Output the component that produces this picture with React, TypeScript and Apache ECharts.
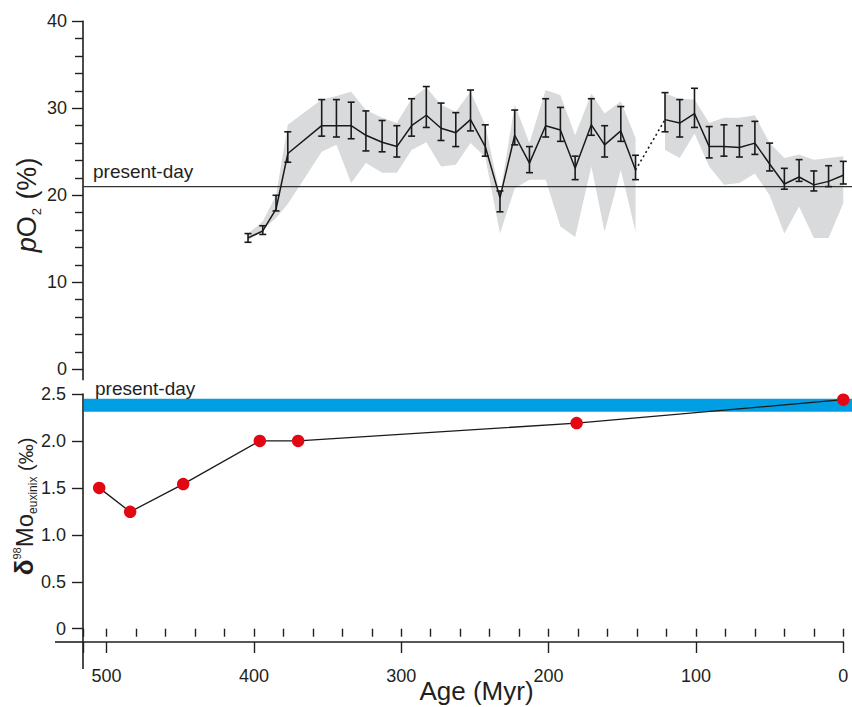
import React, { useEffect, useRef } from 'react';
import * as echarts from 'echarts';

const FAMILY = '"Liberation Sans", Arial, Helvetica, sans-serif';
const INK = '#231f20';

// ---------- Top panel: pO2 (%) ----------
const o2Ages1 = [404, 394, 385, 377, 354, 344, 334, 324, 313, 303, 293, 283, 273, 263, 253, 243, 233, 223, 213, 202, 192, 182, 171, 162, 151, 141];
const o2Values1 = [15.1, 15.9, 18.4, 24.8, 28.0, 28.0, 28.0, 26.9, 26.1, 25.6, 28.0, 29.2, 27.7, 27.2, 28.7, 25.6, 19.7, 26.9, 23.7, 28.0, 27.5, 23.1, 28.1, 25.8, 27.4, 22.9];
const o2Low1 = [14.6, 15.5, 18.2, 23.8, 26.8, 26.7, 26.5, 25.1, 25.0, 24.4, 26.8, 27.8, 26.3, 25.6, 27.4, 24.5, 18.1, 25.8, 22.6, 26.7, 26.2, 21.8, 26.9, 24.4, 26.2, 21.8];
const o2High1 = [15.6, 16.5, 20.0, 27.3, 31.0, 31.0, 30.7, 29.7, 28.6, 28.0, 31.1, 32.5, 30.6, 29.5, 32.1, 28.1, 20.5, 29.8, 25.6, 31.1, 30.1, 24.5, 31.1, 28.0, 30.2, 24.6];
const bandUpper1 = [15.6, 17.0, 20.0, 28.1, 31.0, 31.4, 31.9, 29.8, 28.9, 28.3, 31.1, 32.4, 30.4, 29.6, 31.9, 28.1, 20.0, 30.4, 26.0, 32.1, 31.5, 26.9, 31.7, 29.4, 30.8, 26.6];
const bandLower1 = [14.8, 16.0, 17.4, 19.0, 25.0, 25.8, 21.4, 23.7, 22.6, 22.6, 25.2, 26.1, 23.3, 23.5, 26.0, 24.4, 15.6, 20.8, 21.8, 21.8, 16.4, 15.2, 23.3, 15.8, 22.9, 15.8];

const o2Ages2 = [121, 111, 101, 91, 81, 70.5, 60, 50, 40, 30, 20, 10, 0];
const o2Values2 = [28.7, 28.3, 29.4, 25.6, 25.6, 25.5, 26.0, 23.6, 21.3, 22.1, 21.2, 21.6, 22.3];
const o2Low2 = [27.3, 26.7, 27.8, 24.3, 24.5, 24.4, 24.7, 22.8, 20.7, 21.6, 20.5, 21.0, 21.3];
const o2High2 = [31.8, 31.0, 32.3, 27.9, 28.1, 28.0, 28.5, 26.0, 23.1, 24.1, 22.8, 23.4, 23.9];
const bandUpper2 = [31.7, 31.1, 31.0, 28.3, 28.9, 28.9, 29.2, 26.0, 24.3, 24.7, 24.1, 24.3, 24.5];
const bandLower2 = [25.2, 24.3, 27.1, 23.3, 21.2, 21.4, 22.5, 20.0, 15.6, 18.7, 15.1, 15.1, 19.1];

const presentDayO2 = 21;

// ---------- Bottom panel: δ98Mo euxinix ----------
const moAges = [505, 484, 448, 396, 370, 181, 0];
const moValues = [1.5, 1.245, 1.54, 2.0, 2.0, 2.19, 2.44];
const presentMoBand = [2.31, 2.45];

// ---------- Axes ----------
const ageMin = 0;
const ageMax = 516;
const o2Range = [0, 40];
const moRange = [0, 2.5];

// layout
const W = 852;
const H = 707;
const GRID_LEFT = 83;
const GRID_RIGHT = 8.7;
const TOP_TOP = 21.3;
const TOP_BOTTOM_Y = 369.3;
const BOT_TOP = 394;
const BOT_BOTTOM_Y = 628.7;
const XAXIS_Y = 642;

function measure(text: string, size: number, italic = false, bold = false) {
  const ctx = document.createElement('canvas').getContext('2d');
  if (!ctx) return text.length * size * 0.55;
  ctx.font = `${italic ? 'italic ' : ''}${bold ? 'bold ' : ''}${size}px ${FAMILY}`;
  return ctx.measureText(text).width;
}

type Piece = { text: string; size: number; italic?: boolean; bold?: boolean; shift?: number; gap?: number };

function rotatedTitle(pieces: Piece[], baseX: number, centerY: number) {
  let x = 0;
  const children: any[] = [];
  for (const p of pieces) {
    x += p.gap || 0;
    children.push({
      type: 'text',
      x,
      y: (p.shift || 0) - 0.3465 * p.size,
      style: {
        text: p.text,
        fontSize: p.size,
        fontFamily: FAMILY,
        fontStyle: p.italic ? 'italic' : 'normal',
        fontWeight: p.bold ? 'bold' : 'normal',
        fill: INK,
        align: 'left',
        verticalAlign: 'middle',
      },
    });
    x += measure(p.text, p.size, p.italic, p.bold);
  }
  return { type: 'group', x: baseX, y: centerY + x / 2, rotation: Math.PI / 2, children };
}

function textAt(text: string, x: number, baselineY: number, size: number, align = 'left') {
  return {
    type: 'text',
    x,
    y: baselineY - 0.3465 * size,
    style: { text, fontSize: size, fontFamily: FAMILY, fill: INK, align, verticalAlign: 'middle' },
  };
}

export default function App() {
  const ref = useRef<HTMLDivElement>(null);

  useEffect(() => {
    if (!ref.current) return;
    const chart = echarts.init(ref.current, null, { renderer: 'svg' });

    const axisLine = { show: true, onZero: false, lineStyle: { color: INK, width: 1.6 } };
    const tickStyle = { color: INK, width: 1.4 };
    const labelStyle = { color: INK, fontSize: 18, fontFamily: FAMILY };

    const bands = [
      { ages: o2Ages1, upper: bandUpper1, lower: bandLower1 },
      { ages: o2Ages2, upper: bandUpper2, lower: bandLower2 },
    ];

    const errData: number[][] = [];
    o2Ages1.forEach((a, i) => errData.push([a, o2Low1[i], o2High1[i]]));
    o2Ages2.forEach((a, i) => errData.push([a, o2Low2[i], o2High2[i]]));

    const option: any = {
      animation: false,
      backgroundColor: '#ffffff',
      grid: [
        { left: GRID_LEFT, right: GRID_RIGHT, top: TOP_TOP, bottom: H - TOP_BOTTOM_Y, containLabel: false, outerBoundsMode: 'none' },
        { left: GRID_LEFT, right: GRID_RIGHT, top: BOT_TOP, bottom: H - BOT_BOTTOM_Y, containLabel: false, outerBoundsMode: 'none' },
      ],
      xAxis: [
        { gridIndex: 0, type: 'value', min: ageMin, max: ageMax, inverse: true, show: false, splitLine: { show: false } },
        {
          gridIndex: 1, type: 'value', min: ageMin, max: ageMax, inverse: true, position: 'bottom', offset: XAXIS_Y - BOT_BOTTOM_Y,
          interval: 100,
          axisLine,
          axisTick: { show: true, length: 11, lineStyle: tickStyle },
          axisLabel: { ...labelStyle, margin: 25, formatter: (v: number) => (v % 100 === 0 ? String(v) : '') },
          splitLine: { show: false },
        },
        {
          gridIndex: 1, type: 'value', min: ageMin, max: ageMax, inverse: true, position: 'bottom', offset: XAXIS_Y - BOT_BOTTOM_Y,
          interval: 20,
          axisLine: { show: false },
          axisTick: { show: true, length: 8, lineStyle: tickStyle },
          axisLabel: { show: false },
          splitLine: { show: false },
        },
      ],
      yAxis: [
        {
          gridIndex: 0, type: 'value', min: o2Range[0], max: o2Range[1], interval: 10,
          axisLine,
          axisTick: { show: true, length: 11, lineStyle: tickStyle },
          minorTick: { show: true, splitNumber: 5, length: 8, lineStyle: tickStyle },
          axisLabel: { ...labelStyle, margin: 16 },
          splitLine: { show: false },
          minorSplitLine: { show: false },
        },
        {
          gridIndex: 1, type: 'value', min: moRange[0], max: moRange[1], interval: 0.5,
          axisLine,
          axisTick: { show: true, length: 11, lineStyle: tickStyle },
          axisLabel: { ...labelStyle, margin: 17, formatter: (v: number) => (v === 0 ? '0' : v.toFixed(1)) },
          splitLine: { show: false },
        },
      ],
      series: [
        {
          type: 'custom',
          xAxisIndex: 0,
          yAxisIndex: 0,
          z: 1,
          data: [[0, 0], [1, 0]],
          renderItem: (params: any, api: any) => {
            const b = bands[params.dataIndex];
            const pts: number[][] = [];
            b.ages.forEach((a, i) => pts.push(api.coord([a, b.upper[i]])));
            for (let i = b.ages.length - 1; i >= 0; i--) pts.push(api.coord([b.ages[i], b.lower[i]]));
            return { type: 'polygon', shape: { points: pts }, style: { fill: '#d9dadb', stroke: 'none' } };
          },
        },
        {
          type: 'line', xAxisIndex: 0, yAxisIndex: 0, z: 3,
          data: o2Ages1.map((a, i) => [a, o2Values1[i]]),
          symbol: 'none', lineStyle: { color: '#1a1a1a', width: 1.5 },
        },
        {
          type: 'line', xAxisIndex: 0, yAxisIndex: 0, z: 3,
          data: o2Ages2.map((a, i) => [a, o2Values2[i]]),
          symbol: 'none', lineStyle: { color: '#1a1a1a', width: 1.5 },
        },
        {
          type: 'line', xAxisIndex: 0, yAxisIndex: 0, z: 3,
          data: [[o2Ages1[o2Ages1.length - 1], o2Values1[o2Values1.length - 1]], [o2Ages2[0], o2Values2[0]]],
          symbol: 'none', lineStyle: { color: '#1a1a1a', width: 1.6, type: [2, 3] },
        },
        {
          type: 'custom', xAxisIndex: 0, yAxisIndex: 0, z: 4,
          data: errData,
          encode: { x: 0, y: [1, 2] },
          renderItem: (params: any, api: any) => {
            const a = api.value(0);
            const lo = api.coord([a, api.value(1)]);
            const hi = api.coord([a, api.value(2)]);
            const c = 3.5;
            const st = { stroke: '#1a1a1a', lineWidth: 1.6 };
            return {
              type: 'group',
              children: [
                { type: 'line', shape: { x1: lo[0], y1: lo[1], x2: hi[0], y2: hi[1] }, style: st },
                { type: 'line', shape: { x1: lo[0] - c, y1: lo[1], x2: lo[0] + c, y2: lo[1] }, style: st },
                { type: 'line', shape: { x1: hi[0] - c, y1: hi[1], x2: hi[0] + c, y2: hi[1] }, style: st },
              ],
            };
          },
        },
        {
          type: 'line', xAxisIndex: 1, yAxisIndex: 1, z: 5, clip: false,
          data: moAges.map((a, i) => [a, moValues[i]]),
          symbol: 'circle', symbolSize: 12.5, showAllSymbol: true,
          itemStyle: { color: '#e30613', borderWidth: 0 },
          lineStyle: { color: '#1a1a1a', width: 1.3 },
        },
      ],
    };

    chart.setOption(option);

    const pdY = chart.convertToPixel({ gridIndex: 0 } as any, [ageMax, presentDayO2]) as number[];
    const bandTop = chart.convertToPixel({ gridIndex: 1 } as any, [ageMax, presentMoBand[1]]) as number[];
    const bandBot = chart.convertToPixel({ gridIndex: 1 } as any, [ageMax, presentMoBand[0]]) as number[];
    const topZero = chart.convertToPixel({ gridIndex: 0 } as any, [ageMax, 0]) as number[];
    const botZero = chart.convertToPixel({ gridIndex: 1 } as any, [ageMax, 0]) as number[];

    const axSt = { stroke: INK, lineWidth: 1.6 };

    const graphic: any[] = [
      // present-day pO2 line
      { type: 'line', z: 2, shape: { x1: pdY[0], y1: pdY[1], x2: W, y2: pdY[1] }, style: { stroke: '#333333', lineWidth: 1.3 } },
      // present-day seawater band
      { type: 'rect', z: 0, shape: { x: bandTop[0] + 0.8, y: bandTop[1], width: W - bandTop[0], height: bandBot[1] - bandTop[1] }, style: { fill: '#009fe3' } },
      // axis extensions
      { type: 'line', shape: { x1: topZero[0], y1: topZero[1], x2: topZero[0], y2: topZero[1] + 11 }, style: axSt },
      { type: 'line', shape: { x1: botZero[0], y1: botZero[1], x2: botZero[0], y2: XAXIS_Y + 27 }, style: axSt },
      { type: 'line', shape: { x1: 55, y1: XAXIS_Y, x2: botZero[0], y2: XAXIS_Y }, style: axSt },
      // labels
      textAt('present-day', 93, 178, 19),
      textAt('present-day', 95, 395, 19),
      textAt('Age (Myr)', 476.5, 700, 26, 'center'),
      rotatedTitle(
        [
          { text: 'p', size: 27, italic: true },
          { text: 'O', size: 27 },
          { text: '2', size: 13, shift: 5, gap: 1 },
          { text: ' (%)', size: 27, gap: 1 },
        ],
        36,
        205
      ),
      rotatedTitle(
        [
          { text: 'δ', size: 26, bold: true },
          { text: '98', size: 11, shift: -12 },
          { text: 'Mo', size: 24 },
          { text: 'euxinix', size: 12, shift: 4 },
          { text: ' (‰)', size: 20 },
        ],
        33,
        506.5
      ),
    ];

    chart.setOption({ graphic });

    return () => chart.dispose();
  }, []);

  return (
    <div
      ref={ref}
      style={{ position: 'fixed', left: 0, top: 0, width: W, height: H, background: '#fff' }}
    />
  );
}
